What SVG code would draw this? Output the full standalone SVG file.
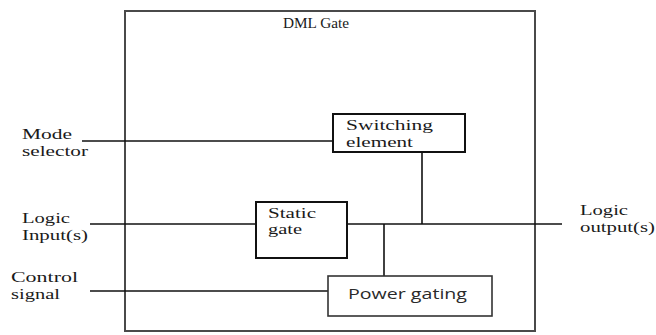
<svg xmlns="http://www.w3.org/2000/svg" width="656" height="335" viewBox="0 0 656 335">
  <style>
    .frame { fill: #fff; stroke: #4a4a4a; stroke-width: 2; }
    .box { fill: #fff; stroke: #111; stroke-width: 2; }
    .box-thin { fill: #fff; stroke: #333; stroke-width: 1.6; }
    .wire { fill: none; stroke: #111; stroke-width: 1.6; }
    .lbl { font-family: "Liberation Serif", "Times New Roman", serif; font-size: 15px; fill: #1a1a1a; }
    .sans { font-family: "Open Sans", "Noto Sans", sans-serif; font-size: 14px; fill: #2a2a2a; }
  </style>
  <rect width="656" height="335" fill="#fff"/>

  <g id="dml-gate">
    <rect class="frame" x="125" y="11" width="410" height="320"/>
    <text class="lbl" x="283" y="28" textLength="66" lengthAdjust="spacingAndGlyphs" font-size="16">DML Gate</text>
  </g>

  <g id="connectors">
    <line class="wire" x1="82" y1="141" x2="333" y2="141"/>
    <line class="wire" x1="90" y1="224" x2="256" y2="224"/>
    <line class="wire" x1="347" y1="224" x2="562" y2="224"/>
    <line class="wire" x1="422" y1="152" x2="422" y2="224"/>
    <line class="wire" x1="384" y1="224" x2="384" y2="276"/>
    <line class="wire" x1="90" y1="291" x2="332" y2="291"/>
  </g>

  <g id="switching-element">
    <rect class="box" x="333" y="114" width="132" height="38"/>
    <text class="lbl" x="346" y="130" textLength="87" lengthAdjust="spacingAndGlyphs">Switching</text>
    <text class="lbl" x="346" y="147" textLength="67" lengthAdjust="spacingAndGlyphs">element</text>
  </g>

  <g id="static-gate">
    <rect class="box" x="256" y="202" width="91" height="56"/>
    <text class="lbl" x="268" y="218" textLength="48" lengthAdjust="spacingAndGlyphs">Static</text>
    <text class="lbl" x="268" y="234" textLength="34" lengthAdjust="spacingAndGlyphs">gate</text>
  </g>

  <g id="power-gating">
    <rect class="box-thin" x="328" y="276" width="164" height="40"/>
    <text class="sans" x="348" y="299" textLength="119" lengthAdjust="spacingAndGlyphs">Power gating</text>
  </g>

  <g id="mode-selector">
    <text class="lbl" x="22" y="139" textLength="50" lengthAdjust="spacingAndGlyphs">Mode</text>
    <text class="lbl" x="22" y="156" textLength="66" lengthAdjust="spacingAndGlyphs">selector</text>
  </g>

  <g id="logic-inputs">
    <text class="lbl" x="22" y="223" textLength="48" lengthAdjust="spacingAndGlyphs">Logic</text>
    <text class="lbl" x="22" y="240" textLength="66" lengthAdjust="spacingAndGlyphs">Input(s)</text>
  </g>

  <g id="control-signal">
    <text class="lbl" x="11" y="282" textLength="67" lengthAdjust="spacingAndGlyphs">Control</text>
    <text class="lbl" x="11" y="299" textLength="49" lengthAdjust="spacingAndGlyphs">signal</text>
  </g>

  <g id="logic-outputs">
    <text class="lbl" x="580" y="215" textLength="48" lengthAdjust="spacingAndGlyphs">Logic</text>
    <text class="lbl" x="580" y="232" textLength="75" lengthAdjust="spacingAndGlyphs">output(s)</text>
  </g>
</svg>
